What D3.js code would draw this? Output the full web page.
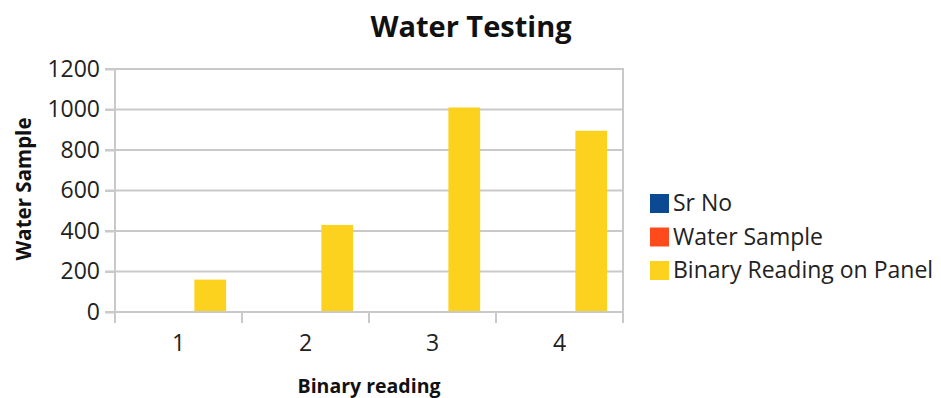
<!DOCTYPE html>
<html><head><meta charset="utf-8">
<script src="https://cdn.jsdelivr.net/npm/d3@7"></script>
<style>body{margin:0;background:#fff}svg{display:block}</style>
</head><body><svg id="c" width="941" height="398"></svg>
<script>
const categories = ["1","2","3","4"];
const seriesNames = ["Sr No","Water Sample","Binary Reading on Panel"];
const srNo = [1,2,3,4];
const waterSample = [0,0,0,0];
const binaryReading = [160,430,1010,895];
const yTicks = [0,200,400,600,800,1000,1200];
const colors = ["#0B4A93","#FF4A1C","#FDD21F"];

const series = [srNo, waterSample, binaryReading];
const svg = d3.select("#c");
const font = "'Open Sans', sans-serif";
const m = {left:115, right:623, top:69, bottom:312};

const x = d3.scaleBand().domain(categories).range([m.left, m.right]).paddingInner(0).paddingOuter(0);
const xs = d3.scaleBand().domain(d3.range(series.length)).range([0, x.bandwidth()]).paddingInner(0).paddingOuter(0.5);
const y = d3.scaleLinear().domain([0,1200]).range([m.bottom, m.top]);

const grid = "#c9c9c9";
svg.append("g").selectAll("line").data(yTicks.filter(d=>d>0)).join("line")
  .attr("x1", m.left-10).attr("x2", m.right).attr("y1", d=>y(d)).attr("y2", d=>y(d))
  .attr("stroke", grid).attr("stroke-width", 2);
svg.append("line").attr("x1", m.right).attr("x2", m.right).attr("y1", m.top-1).attr("y2", m.bottom+11)
  .attr("stroke", grid).attr("stroke-width", 2);

categories.forEach((c, i) => {
  series.forEach((s, j) => {
    svg.append("rect").attr("x", x(c) + xs(j)).attr("width", xs.bandwidth())
      .attr("y", y(s[i])).attr("height", Math.max(0, y(0) - y(s[i])))
      .attr("fill", colors[j]);
  });
});

const yAxis = d3.axisLeft(y).tickValues(yTicks).tickSize(10).tickPadding(5).tickFormat(d3.format("d"));
const gy = svg.append("g").attr("transform", `translate(${m.left},0)`).call(yAxis);
gy.select(".domain").attr("stroke", grid).attr("stroke-width", 2).attr("d", `M0,${m.bottom+11}V${m.top}`);
gy.selectAll(".tick line").attr("stroke", grid).attr("stroke-width", 2);
gy.selectAll(".tick text").attr("font-family", font).attr("font-size", 23).attr("fill", "#222");

const xAxis = d3.axisBottom(x).tickSize(0).tickPadding(23);
const gx = svg.append("g").attr("transform", `translate(0,${m.bottom})`).call(xAxis);
gx.select(".domain").attr("stroke", grid).attr("stroke-width", 2).attr("d", `M${m.left-10},0H${m.right}`);
gx.selectAll(".tick text").attr("font-family", font).attr("font-size", 23).attr("fill", "#222");
svg.append("g").selectAll("line").data(categories.slice(1)).join("line")
  .attr("x1", d=>x(d)).attr("x2", d=>x(d)).attr("y1", m.bottom).attr("y2", m.bottom+11)
  .attr("stroke", grid).attr("stroke-width", 2);

svg.append("text").attr("x", 471).attr("y", 37).attr("text-anchor","middle")
  .attr("font-family", font).attr("font-weight","bold").attr("font-size", 29).attr("fill","#111")
  .text("Water Testing");
svg.append("text").attr("x", 369).attr("y", 393).attr("text-anchor","middle")
  .attr("font-family", font).attr("font-weight","bold").attr("font-size", 19.5).attr("fill","#111")
  .text("Binary reading");
svg.append("text").attr("transform","translate(31,189) rotate(-90)").attr("text-anchor","middle")
  .attr("font-family", font).attr("font-weight","bold").attr("font-size", 20.5).attr("fill","#111")
  .text("Water Sample");

const lg = svg.append("g");
seriesNames.forEach((n, j) => {
  const cy = 203 + j*33.5;
  lg.append("rect").attr("x", 650).attr("y", cy-9).attr("width", 19).attr("height", 19).attr("fill", colors[j]);
  lg.append("text").attr("x", 673).attr("y", cy+8).attr("font-family", font).attr("font-size", 23)
    .attr("fill","#222").text(n);
});
</script></body></html>
